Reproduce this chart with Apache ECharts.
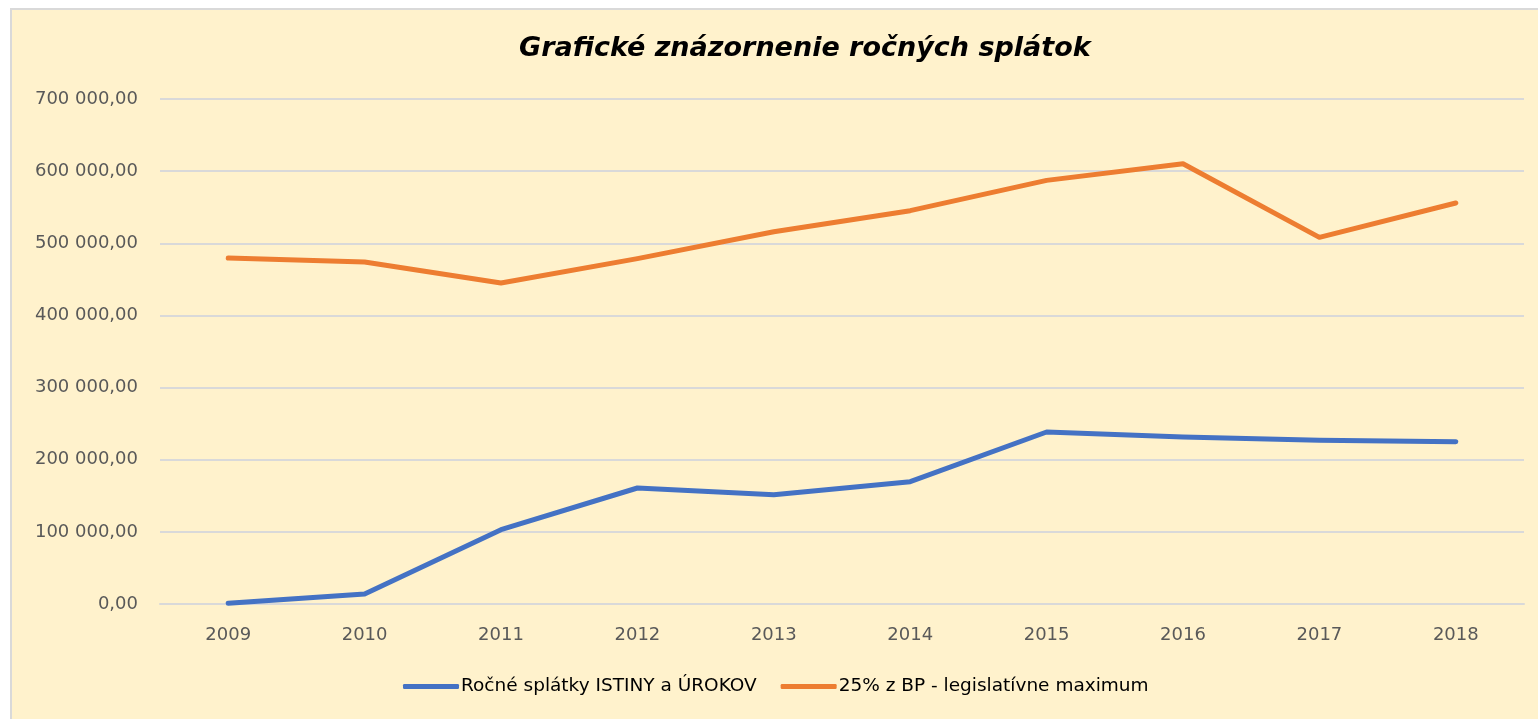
<!DOCTYPE html>
<html>
<head>
<meta charset="utf-8">
<script src="https://cdn.jsdelivr.net/npm/echarts@6/dist/echarts.min.js"></script>
<style>
  html, body { margin: 0; padding: 0; background: #fff; }
  #main { width: 1538px; height: 719px; }
</style>
</head>
<body>
<div id="main"></div>
<script>
var years = ['2009', '2010', '2011', '2012', '2013', '2014', '2015', '2016', '2017', '2018']
var splatky = [1000, 13900, 103000, 160800, 151500, 169500, 238400, 231500, 227000, 225000]
var maximum = [479600, 474000, 445000, 478700, 516000, 545200, 587200, 610300, 508200, 555900]

var chart = echarts.init(document.getElementById('main'))

function fmt (v) {
  var s = Math.round(v).toString().replace(/\B(?=(\d{3})+(?!\d))/g, ' ')
  return s + ',00'
}

var option = {
  backgroundColor: '#fff',
  graphic: [{
    type: 'rect',
    shape: { x: 11, y: 9, width: 1540, height: 720 },
    style: { fill: '#FFF2CC', stroke: '#D9D9D9', lineWidth: 2 },
    z: -10,
    silent: true
  }],
  title: {
    text: 'Grafické znázornenie ročných splátok',
    left: 514,
    top: 30,
    textStyle: {
      fontFamily: 'DejaVu Sans',
      fontSize: 27,
      fontWeight: 'bold',
      fontStyle: 'italic',
      color: '#000'
    }
  },
  grid: {
    left: 160,
    right: 14,
    top: 99,
    bottom: 115
  },
  legend: {
    bottom: 18,
    left: 398,
    itemWidth: 56,
    itemHeight: 5,
    itemGap: 24,
    icon: 'roundRect',
    textStyle: { fontFamily: 'DejaVu Sans', fontSize: 18.5, color: '#000', padding: [0, 0, 0, -3] },
    data: ['Ročné splátky ISTINY a ÚROKOV', '25% z BP - legislatívne maximum']
  },
  xAxis: {
    type: 'category',
    data: years,
    boundaryGap: true,
    axisLine: { lineStyle: { color: '#D9D9D9', width: 2 } },
    axisTick: { show: false },
    axisLabel: { color: '#595959', fontFamily: 'DejaVu Sans', fontSize: 18, margin: 22 }
  },
  yAxis: {
    type: 'value',
    min: 0,
    max: 700000,
    interval: 100000,
    axisLine: { show: false },
    axisTick: { show: false },
    splitLine: { lineStyle: { color: '#D9D9D9', width: 2 } },
    axisLabel: { color: '#595959', fontFamily: 'DejaVu Sans', fontSize: 18, margin: 22, formatter: fmt }
  },
  series: [{
    name: 'Ročné splátky ISTINY a ÚROKOV',
    type: 'line',
    data: splatky,
    symbol: 'none',
    lineStyle: { color: '#4472C4', width: 5, cap: 'round', join: 'round' },
    itemStyle: { color: '#4472C4' }
  }, {
    name: '25% z BP - legislatívne maximum',
    type: 'line',
    data: maximum,
    symbol: 'none',
    lineStyle: { color: '#ED7D31', width: 5, cap: 'round', join: 'round' },
    itemStyle: { color: '#ED7D31' }
  }]
}

chart.setOption(option)
</script>
</body>
</html>
